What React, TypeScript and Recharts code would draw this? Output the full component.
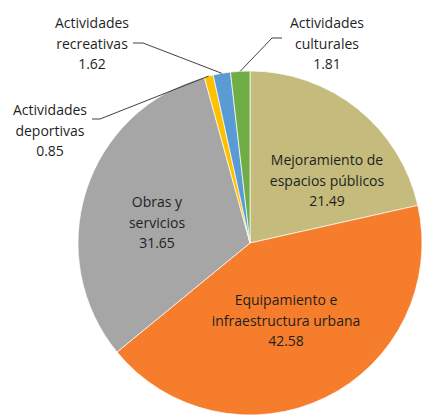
import React from 'react';
import { PieChart, Pie, Cell } from 'recharts';

const categories = [
  'Mejoramiento de espacios públicos',
  'Equipamiento e infraestructura urbana',
  'Obras y servicios',
  'Actividades deportivas',
  'Actividades recreativas',
  'Actividades culturales',
];
const values = [21.49, 42.58, 31.65, 0.85, 1.62, 1.81];
const labelLines = [
  ['Mejoramiento de', 'espacios públicos'],
  ['Equipamiento e', 'infraestructura urbana'],
  ['Obras y', 'servicios'],
  ['Actividades', 'deportivas'],
  ['Actividades', 'recreativas'],
  ['Actividades', 'culturales'],
];
const colors = ['#C4BB7C', '#F57D2B', '#A6A6A6', '#FFC000', '#5B9BD5', '#70AD47'];

// label placement relative to pie center (text block center), and leader elbow
const labelPos = [
  { dx: 77, dy: -63 },
  { dx: 36, dy: 77 },
  { dx: -93, dy: -21 },
  { dx: -200, dy: -113, elbow: { x1: -158, x2: -150, y: -124 } },
  { dx: -158, dy: -200, elbow: { x1: -117, x2: -107, y: -200 } },
  { dx: 77, dy: -200, elbow: { x1: 32, x2: 22, y: -205 } },
];

const data = categories.map((name, i) => ({ name, value: values[i], idx: i }));

const RAD = Math.PI / 180;

const renderLabel = (props: any) => {
  const { cx, cy, midAngle, outerRadius, index, value } = props;
  const p = labelPos[index];
  const lines = [...labelLines[index], value.toFixed(2)];
  const tx = cx + p.dx;
  const ty = cy + p.dy;
  const lh = 20.5;
  const els: any[] = [];
  if (p.elbow) {
    const ex = cx + outerRadius * Math.cos(-midAngle * RAD);
    const ey = cy + outerRadius * Math.sin(-midAngle * RAD);
    els.push(
      <polyline
        key="l"
        points={`${cx + p.elbow.x1},${cy + p.elbow.y} ${cx + p.elbow.x2},${cy + p.elbow.y} ${ex},${ey}`}
        fill="none"
        stroke="#404040"
        strokeWidth={1}
      />
    );
  }
  els.push(
    <text
      key="t"
      x={tx}
      y={ty}
      textAnchor="middle"
      fill="#1f1f1f"
      fontSize={14}
      fontFamily="'Open Sans', sans-serif"
    >
      {lines.map((l, i) => (
        <tspan key={i} x={tx} y={ty + (i - 1) * lh} dominantBaseline="central">
          {l}
        </tspan>
      ))}
    </text>
  );
  return <g>{els}</g>;
};

export default function App() {
  return (
    <div style={{ position: 'absolute', left: 0, top: 0, width: 422, height: 416, background: '#fff' }}>
      <PieChart width={422} height={416} margin={{ top: 0, right: 0, bottom: 0, left: 0 }}>
        <Pie
          data={data}
          dataKey="value"
          nameKey="name"
          cx={250}
          cy={243}
          outerRadius={172}
          startAngle={90}
          endAngle={-270}
          stroke="#ffffff"
          strokeWidth={0.7}
          label={renderLabel}
          labelLine={false}
          isAnimationActive={false}
        >
          {data.map((d, i) => (
            <Cell key={i} fill={colors[i]} />
          ))}
        </Pie>
      </PieChart>
    </div>
  );
}
